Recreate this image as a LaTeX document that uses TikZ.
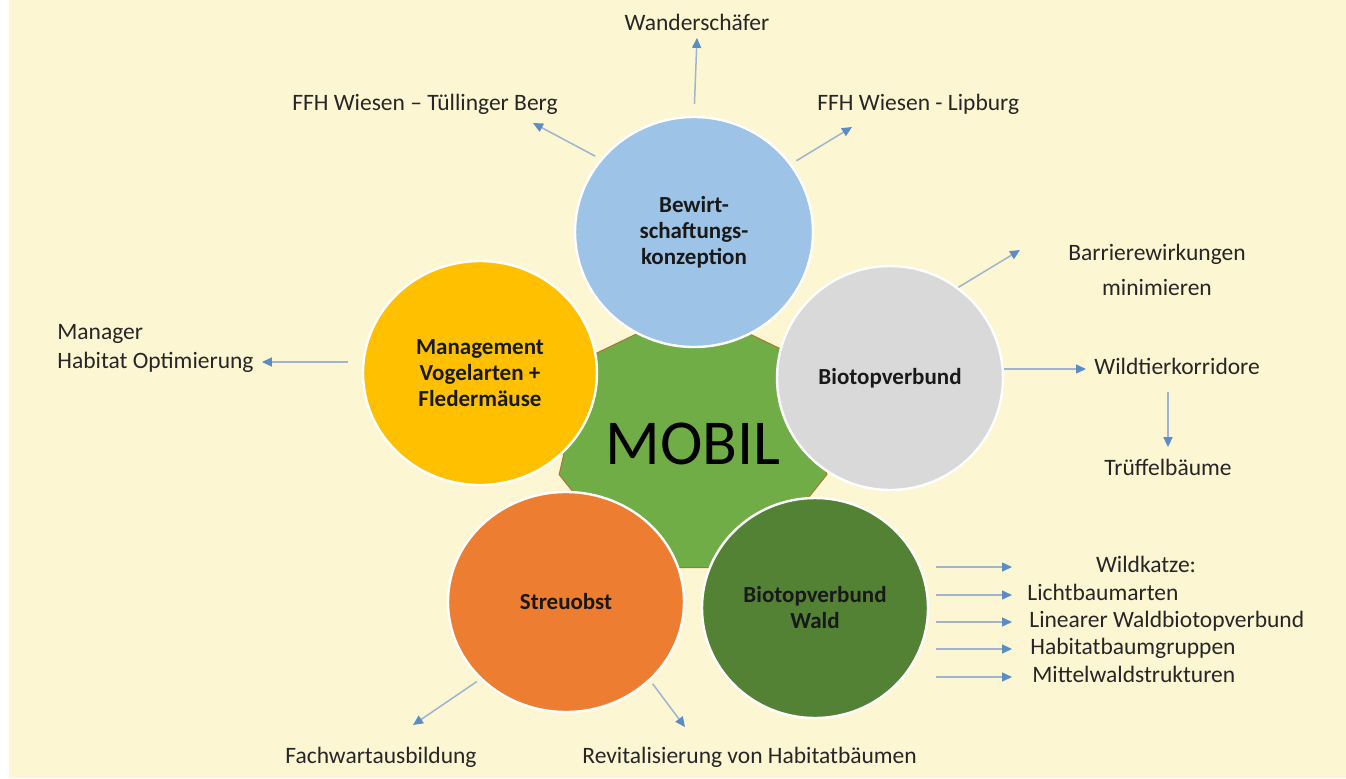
\documentclass[tikz,border=0pt]{standalone}
\usepackage{fontspec}
\setmainfont{Carlito}
\usepackage{xcolor}
\usetikzlibrary{shapes.geometric,arrows.meta}

\definecolor{bgcream}{HTML}{FCF6D2}
\definecolor{cblue}{HTML}{9DC3E6}
\definecolor{cyellow}{HTML}{FFC000}
\definecolor{cgray}{HTML}{D9D9D9}
\definecolor{corange}{HTML}{ED7D31}
\definecolor{cdarkgreen}{HTML}{548235}
\definecolor{cgreen}{HTML}{70AD47}
\definecolor{heptedge}{HTML}{A8772F}
\definecolor{lineblue}{HTML}{9EB4D0}
\definecolor{tipblue}{HTML}{5A8CC6}
\definecolor{textgray}{HTML}{262626}

\begin{document}
\begin{tikzpicture}[x=0.5pt, y=-0.5pt,
  bubble/.style={ellipse, draw=white, line width=1.2pt, inner sep=0pt,
    minimum width=117pt, minimum height=112pt, align=center, text=black!90,
    font=\fontsize{11.5}{13}\selectfont\bfseries},
  lbl/.style={font=\fontsize{11.75}{14}\selectfont, text=textgray, inner sep=1pt,
    text height=8pt, text depth=2.5pt},
  lbltwo/.style={text=textgray, inner sep=1pt},
  arr/.style={draw=lineblue, line width=0.75pt,
    -{Triangle[length=5pt,width=4.5pt,color=tipblue]}}]

% background
\fill[white] (0,0) rectangle (1346,778);
\fill[bgcream] (9,0) rectangle (1346,778);
\useasboundingbox (0,0) rectangle (1346,778);

% centre
\node[regular polygon, regular polygon sides=7, minimum size=135pt, inner sep=0pt,
  fill=cgreen, draw=heptedge, line width=0.5pt,
  font=\fontsize{32}{32}\selectfont] (MOB) at (693,444) {MOBIL};

% circles
\node[bubble, fill=cblue, minimum width=119pt, minimum height=115pt] (BEW) at (694,232) {Bewirt-\\schaftungs-\\konzeption};
\node[bubble, fill=cyellow] (MAN) at (480,373) {Management\\Vogelarten +\\Fledermäuse};
\node[bubble, fill=cgray, minimum width=113pt] (BIO) at (890,378) {Biotopverbund};
\node[bubble, fill=corange, minimum width=118pt, minimum height=110pt] (STR) at (566,602) {Streuobst};
\node[bubble, fill=cdarkgreen, minimum width=113pt, minimum height=110pt] (WAL) at (815,608) {Biotopverbund\\Wald};

% labels
\node[lbl] (WAN) at (697,25) {Wanderschäfer};
\node[lbl] (FFT) at (425,105) {FFH Wiesen – Tüllinger Berg};
\node[lbl, anchor=west] (FFL) at (815,105) {FFH Wiesen - Lipburg};
\node[lbltwo, align=center, font=\fontsize{11.75}{17.5}\selectfont] (BAR) at (1157,270) {Barrierewirkungen\\minimieren};
\node[lbl, anchor=west] (WIL) at (1092,369) {Wildtierkorridore};
\node[lbl] (TRU) at (1168,470) {Trüffelbäume};
\node[lbltwo, align=left, anchor=west, font=\fontsize{11.75}{14.5}\selectfont] (MGR) at (55,348) {Manager\\Habitat Optimierung};
\node[lbl] (L1) at (1146,567) {Wildkatze:};
\node[lbl, anchor=west] (L2) at (1025,595) {Lichtbaumarten};
\node[lbl, anchor=west] (L3) at (1027,622) {Linearer Waldbiotopverbund};
\node[lbl, anchor=west] (L4) at (1028,649) {Habitatbaumgruppen};
\node[lbl, anchor=west] (L5) at (1030,677) {Mittelwaldstrukturen};
\node[lbl] (FAC) at (381,758) {Fachwartausbildung};
\node[lbl, anchor=west] (REV) at (580,758) {Revitalisierung von Habitatbäumen};

% free arrow ends
\coordinate (FFTtip) at (533,123);
\coordinate (FFLtip) at (852,127);
\coordinate (BARtip) at (1020,250);
\coordinate (LISTtip) at (1012,567);
\coordinate (FACtip) at (413,725);
\coordinate (REVtip) at (685,727);
\coordinate (MGRtip) at ([yshift=-7pt]MGR.east);

% arrows
\draw[arr, shorten <=6pt] (BEW.north) -- (WAN.south);
\draw[arr, shorten <=3pt] (BEW.142) -- (FFTtip);
\draw[arr, shorten <=3pt] (BEW.35) -- (FFLtip);
\draw[arr] (BIO.53) -- (BARtip);
\draw[arr, shorten >=3pt] (BIO.east |- WIL.west) -- (WIL.west);
\draw[arr, shorten <=5pt, shorten >=5pt] (TRU.north |- WIL.south) -- (TRU.north);
\draw[arr, shorten <=7pt, shorten >=3pt] (MAN.west |- MGRtip) -- (MGRtip);
\foreach \n in {1,...,5}
  \draw[arr, shorten <=3.5pt] (WAL.east |- L\n.west) -- (LISTtip |- L\n.west);
\draw[arr, shorten <=2pt] (STR.222) -- (FACtip);
\draw[arr, shorten <=2pt] (STR.-43) -- (REVtip);
\end{tikzpicture}
\end{document}
